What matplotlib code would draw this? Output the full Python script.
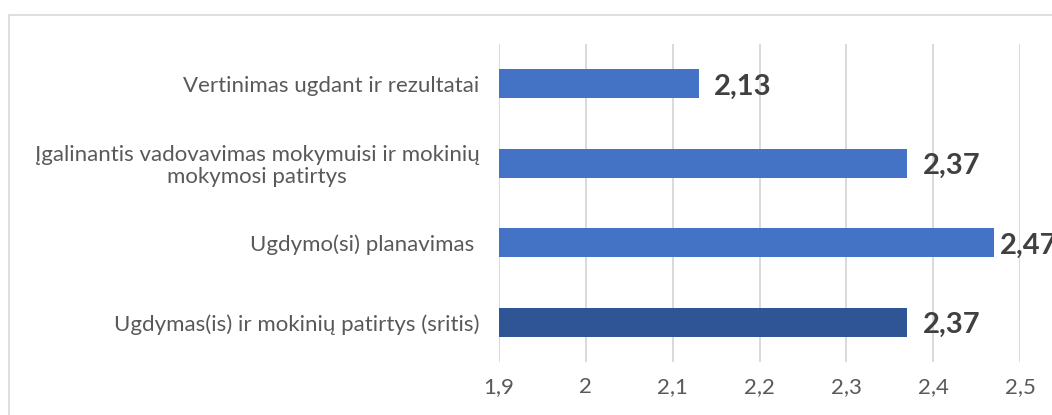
import matplotlib.pyplot as plt
from matplotlib.patches import Rectangle
from matplotlib.ticker import FuncFormatter

# data (top to bottom as in the chart)
categories = [
    "Vertinimas ugdant ir rezultatai",
    "Įgalinantis vadovavimas mokymuisi ir mokinių\nmokymosi patirtys",
    "Ugdymo(si) planavimas ",
    "Ugdymas(is) ir mokinių patirtys (sritis)",
]
values = [2.13, 2.37, 2.47, 2.37]
colors = ["#4472C4", "#4472C4", "#4472C4", "#2F5597"]

plt.rcParams["font.family"] = ["Lato", "DejaVu Sans"]

fig = plt.figure(figsize=(10.52, 4.15), dpi=100)
ax = fig.add_axes([499 / 1052, 53 / 415, 521 / 1052, 318 / 415])

# outer chart border (goes off the right and bottom edge)
fig.patches.append(Rectangle((9 / 1052, -0.1), 1.1, 0.1 + 400 / 415,
                             transform=fig.transFigure, fill=False,
                             edgecolor="#D9D9D9", linewidth=1.2))

pos = list(range(len(categories)))[::-1]
ax.barh(pos, [v - 1.9 for v in values], left=1.9, height=0.36, color=colors, zorder=3)

ax.set_xlim(1.9, 2.5)
ax.set_ylim(-0.5, len(categories) - 0.5)
ax.set_xticks([1.9, 2.0, 2.1, 2.2, 2.3, 2.4, 2.5])
ax.xaxis.set_major_formatter(FuncFormatter(lambda x, p: f"{x:g}".replace(".", ",")))
ax.set_yticks(pos)
ax.set_yticklabels(categories, multialignment="center", linespacing=1.1)
ax.tick_params(axis="both", length=0, labelsize=16, colors="#595959")
ax.tick_params(axis="x", pad=11)
ax.tick_params(axis="y", pad=14)
ax.grid(axis="x", color="#D9D9D9", linewidth=1.4, zorder=0)
for s in ax.spines.values():
    s.set_visible(False)

vmax = max(values)
for p, v in zip(pos, values):
    off = 4 if v == vmax else 11
    ax.annotate(f"{v:.2f}".replace(".", ","), (v, p), xytext=(off, -2),
                textcoords="offset points", va="center", ha="left",
                fontsize=21, fontweight="bold", color="#404040",
                annotation_clip=False)

fig.savefig("out.png", dpi=100)
